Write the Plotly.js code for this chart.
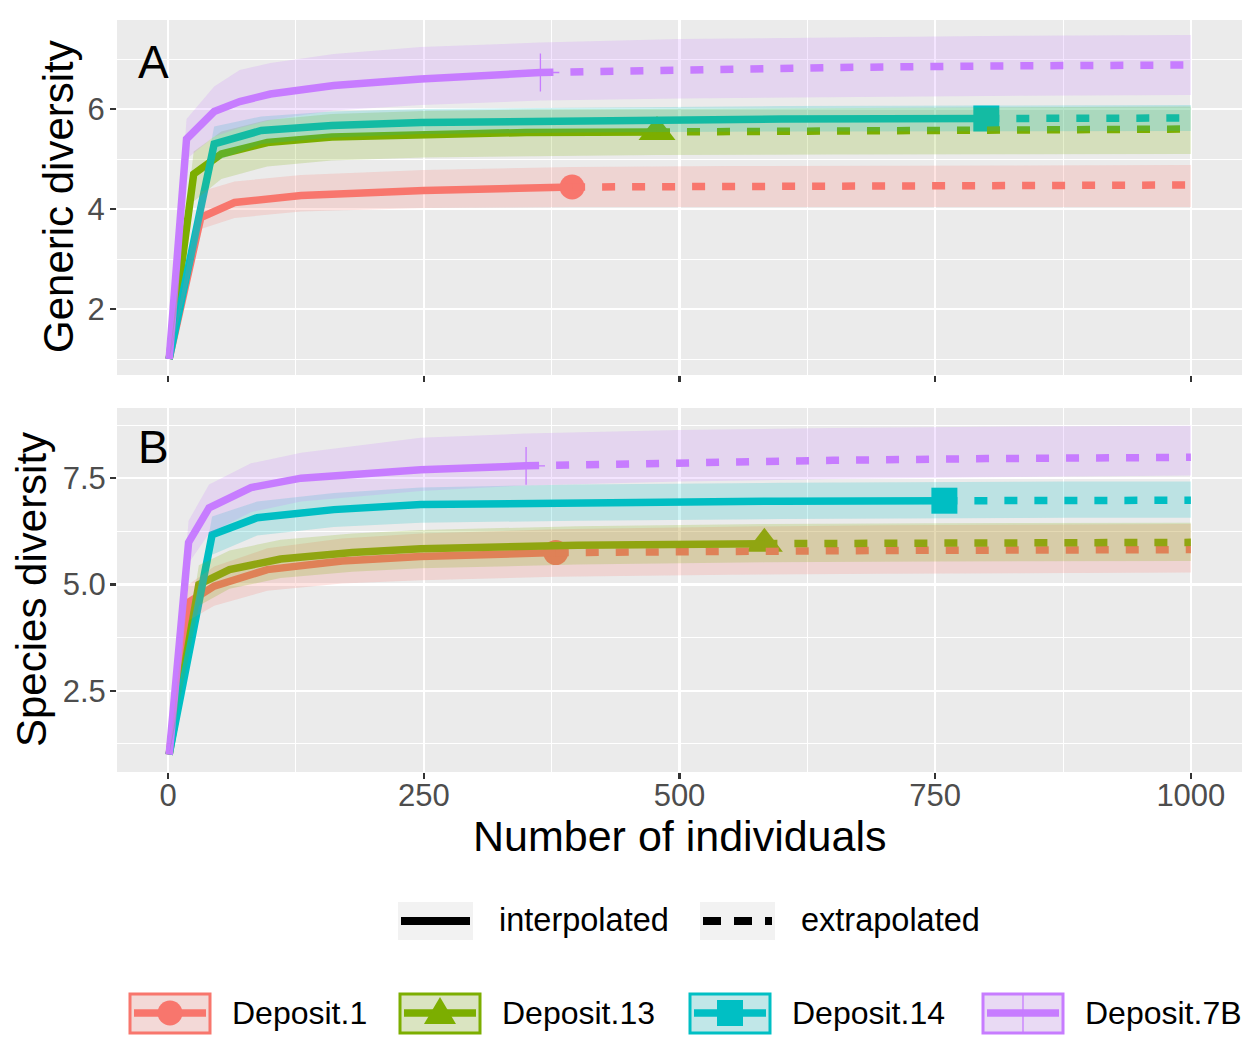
<!DOCTYPE html>
<html>
<head>
<meta charset="utf-8">
<script src="https://cdn.plot.ly/plotly-3.0.1.min.js"></script>
<style>html,body{margin:0;padding:0;background:#fff;}#chart{width:1246px;height:1055px;}</style>
</head>
<body>
<div id="chart"></div>
<script>
// ---------------- DATA ----------------
const deposits = ["Deposit.1", "Deposit.13", "Deposit.14", "Deposit.7B"];
const methodLabels = ["interpolated", "extrapolated"];
const xTickValues = [0, 250, 500, 750, 1000];

// observed sample sizes (reference sample) per panel
const obsGeneric = [395, 478, 800, 364];
const obsSpecies = [379, 583, 759, 350];

// Panel A: Generic diversity
const gen1_x  = [1, 32, 65, 130, 250, 395, 550, 700, 850, 1000];
const gen1_y  = [1, 3.83, 4.13, 4.27, 4.37, 4.44, 4.46, 4.47, 4.47, 4.48];
const gen1_lo = [1, 3.6, 3.82, 3.95, 4.02, 4.04, 4.04, 4.04, 4.04, 4.04];
const gen1_hi = [1, 4.35, 4.55, 4.68, 4.78, 4.84, 4.86, 4.87, 4.88, 4.88];

const gen13_x  = [1, 25, 52, 97, 160, 250, 350, 478, 650, 825, 1000];
const gen13_y  = [1, 4.7, 5.1, 5.33, 5.44, 5.5, 5.53, 5.54, 5.57, 5.59, 5.6];
const gen13_lo = [1, 4.15, 4.6, 4.85, 4.97, 5.03, 5.06, 5.08, 5.09, 5.1, 5.1];
const gen13_hi = [1, 5.15, 5.55, 5.78, 5.9, 5.96, 5.99, 6.0, 6.02, 6.04, 6.05];

const gen14_x  = [1, 45, 91, 160, 247, 400, 600, 800, 900, 1000];
const gen14_y  = [1, 5.3, 5.57, 5.67, 5.73, 5.77, 5.8, 5.81, 5.82, 5.82];
const gen14_lo = [1, 4.95, 5.3, 5.43, 5.5, 5.53, 5.55, 5.56, 5.56, 5.56];
const gen14_hi = [1, 5.65, 5.85, 5.95, 6.0, 6.03, 6.06, 6.07, 6.08, 6.08];

const gen7B_x  = [1, 18, 45, 70, 100, 162, 247, 364, 500, 650, 800, 1000];
const gen7B_y  = [1, 5.4, 5.95, 6.15, 6.3, 6.47, 6.6, 6.73, 6.79, 6.83, 6.86, 6.88];
const gen7B_lo = [1, 5.0, 5.45, 5.62, 5.78, 5.97, 6.08, 6.17, 6.21, 6.24, 6.26, 6.28];
const gen7B_hi = [1, 5.8, 6.45, 6.78, 6.92, 7.1, 7.24, 7.33, 7.4, 7.43, 7.46, 7.48];

// Panel B: Species diversity
const sp1_x  = [1, 20, 45, 97, 170, 247, 379, 550, 700, 850, 1000];
const sp1_y  = [1, 4.58, 4.96, 5.35, 5.55, 5.66, 5.75, 5.79, 5.8, 5.81, 5.82];
const sp1_lo = [1, 4.15, 4.5, 4.85, 5.02, 5.1, 5.18, 5.23, 5.25, 5.27, 5.28];
const sp1_hi = [1, 5.0, 5.42, 5.85, 6.08, 6.2, 6.3, 6.36, 6.39, 6.41, 6.42];

const sp13_x  = [1, 30, 60, 110, 180, 247, 400, 583, 750, 900, 1000];
const sp13_y  = [1, 5.0, 5.35, 5.6, 5.75, 5.84, 5.92, 5.96, 5.98, 5.99, 5.99];
const sp13_lo = [1, 4.5, 4.9, 5.15, 5.3, 5.38, 5.47, 5.52, 5.54, 5.55, 5.55];
const sp13_hi = [1, 5.45, 5.8, 6.05, 6.2, 6.28, 6.37, 6.42, 6.44, 6.45, 6.45];

const sp14_x  = [1, 43, 87, 162, 247, 400, 600, 759, 880, 1000];
const sp14_y  = [1, 6.17, 6.57, 6.76, 6.88, 6.93, 6.96, 6.97, 6.98, 6.98];
const sp14_lo = [1, 5.7, 6.15, 6.35, 6.45, 6.5, 6.54, 6.56, 6.57, 6.57];
const sp14_hi = [1, 6.6, 6.95, 7.15, 7.28, 7.35, 7.39, 7.41, 7.42, 7.42];

const sp7B_x  = [1, 20, 40, 81, 130, 247, 350, 500, 650, 800, 1000];
const sp7B_y  = [1, 5.99, 6.8, 7.28, 7.5, 7.7, 7.79, 7.87, 7.92, 7.96, 7.99];
const sp7B_lo = [1, 5.5, 6.2, 6.7, 6.95, 7.2, 7.33, 7.42, 7.48, 7.52, 7.56];
const sp7B_hi = [1, 6.5, 7.35, 7.85, 8.1, 8.45, 8.55, 8.63, 8.68, 8.71, 8.73];

// ---------------- STYLE ----------------
const colors = ["#F8766D", "#7CAE00", "#00BFC4", "#C77CFF"];
const symbols = ["circle", "triangle-up", "square", "cross-thin"];
const symSizes = [25, 32, 26, 27];
const FONT = "Liberation Sans, Arial, sans-serif";

function rgba(hex, a) {
  const r = parseInt(hex.slice(1,3),16), g = parseInt(hex.slice(3,5),16), b = parseInt(hex.slice(5,7),16);
  return `rgba(${r},${g},${b},${a})`;
}

const generic = [
  {x: gen1_x, y: gen1_y, lo: gen1_lo, hi: gen1_hi},
  {x: gen13_x, y: gen13_y, lo: gen13_lo, hi: gen13_hi},
  {x: gen14_x, y: gen14_y, lo: gen14_lo, hi: gen14_hi},
  {x: gen7B_x, y: gen7B_y, lo: gen7B_lo, hi: gen7B_hi}
];
const species = [
  {x: sp1_x, y: sp1_y, lo: sp1_lo, hi: sp1_hi},
  {x: sp13_x, y: sp13_y, lo: sp13_lo, hi: sp13_hi},
  {x: sp14_x, y: sp14_y, lo: sp14_lo, hi: sp14_hi},
  {x: sp7B_x, y: sp7B_y, lo: sp7B_lo, hi: sp7B_hi}
];

const traces = [];
function addPanel(series, obs, xa, ya) {
  // observed points
  series.forEach((s, i) => {
    const k = s.x.indexOf(obs[i]);
    traces.push({
      x: [s.x[k]], y: [s.y[k]], xaxis: xa, yaxis: ya, mode: "markers", name: deposits[i],
      hoverinfo: "skip",
      marker: {symbol: symbols[i], size: symSizes[i], color: colors[i],
               line: {width: i === 3 ? 1.3 : 0, color: colors[i]}}
    });
  });
  // interpolated and extrapolated lines
  series.forEach((s, i) => {
    const n = obs[i];
    const ix = [], iy = [], ex = [], ey = [];
    s.x.forEach((v, j) => {
      if (v <= n) { ix.push(v); iy.push(s.y[j]); }
      if (v >= n) { ex.push(v); ey.push(s.y[j]); }
    });
    traces.push({x: ix, y: iy, xaxis: xa, yaxis: ya, mode: "lines", name: deposits[i] + " " + methodLabels[0],
      hoverinfo: "skip", line: {color: colors[i], width: 7.5, dash: "solid"}});
    traces.push({x: ex, y: ey, xaxis: xa, yaxis: ya, mode: "lines", name: deposits[i] + " " + methodLabels[1],
      hoverinfo: "skip", line: {color: colors[i], width: 7.5, dash: "13px,17px"}});
  });
  // confidence ribbons
  series.forEach((s, i) => {
    traces.push({
      x: s.x.concat(s.x.slice().reverse()),
      y: s.hi.concat(s.lo.slice().reverse()),
      xaxis: xa, yaxis: ya, mode: "lines", fill: "toself", name: deposits[i] + " CI",
      hoverinfo: "skip", fillcolor: rgba(colors[i], 0.2), line: {width: 0, color: "rgba(0,0,0,0)"}
    });
  });
}
addPanel(generic, obsGeneric, "x2", "y2");
addPanel(species, obsSpecies, "x", "y");

// ---------------- LAYOUT ----------------
// plot area in pixels: x 117..1242, y 20..772
const L = 117, R = 1242, T = 20, B = 772;
const PX = p => (p - L) / (R - L);
const PY = p => (B - p) / (B - T);

const axisCommon = {
  showgrid: true, gridcolor: "#FFFFFF", gridwidth: 2.2,
  zeroline: false, showline: false,
  ticks: "outside", ticklen: 6, tickwidth: 2.5, tickcolor: "#333333",
  tickfont: {family: FONT, size: 31, color: "#4D4D4D"}
};
const xCommon = Object.assign({}, axisCommon, {
  range: [-50, 1050], tickmode: "array", tickvals: xTickValues, ticktext: xTickValues.map(String),
  ticklabelstandoff: -10,
  minor: {dtick: 125, tick0: 0, showgrid: true, gridcolor: "#FFFFFF", gridwidth: 1, ticks: ""}
});

const annotations = [
  {text: "A", x: PX(153), y: PY(62), xref: "paper", yref: "paper", showarrow: false,
   font: {family: FONT, size: 46, color: "#000"}, xanchor: "center", yanchor: "middle"},
  {text: "B", x: PX(153), y: PY(447), xref: "paper", yref: "paper", showarrow: false,
   font: {family: FONT, size: 46, color: "#000"}, xanchor: "center", yanchor: "middle"},
  {text: "Generic diversity", x: PX(58), y: PY(197), xref: "paper", yref: "paper", showarrow: false,
   textangle: -90, font: {family: FONT, size: 42, color: "#000"}, xanchor: "center", yanchor: "middle"},
  {text: "Species diversity", x: PX(31), y: PY(590), xref: "paper", yref: "paper", showarrow: false,
   textangle: -90, font: {family: FONT, size: 42, color: "#000"}, xanchor: "center", yanchor: "middle"},
  {text: "Number of individuals", x: PX(679), y: PY(836), xref: "paper", yref: "paper", showarrow: false,
   font: {family: FONT, size: 43, color: "#000"}, xanchor: "center", yanchor: "middle"}
];

const shapes = [];
// linetype legend
const ltKeys = [398, 700];
const ltDash = ["solid", "18px,13px"];
methodLabels.forEach((lab, i) => {
  const k = ltKeys[i];
  shapes.push({type: "rect", xref: "paper", yref: "paper", x0: PX(k), x1: PX(k + 75), y0: PY(940), y1: PY(902),
    fillcolor: "#F2F2F2", line: {width: 0}});
  shapes.push({type: "line", xref: "paper", yref: "paper", x0: PX(k + 3), x1: PX(k + 72), y0: PY(921), y1: PY(921),
    line: {color: "#000", width: 8, dash: ltDash[i]}});
  annotations.push({text: lab, x: PX(k + 99), y: PY(920), xref: "paper", yref: "paper", showarrow: false,
    xanchor: "left", yanchor: "middle", font: {family: FONT, size: 32.5, color: "#000"}});
});
// colour legend
const ckeys = [130, 400, 690, 983];
deposits.forEach((d, i) => {
  const k = ckeys[i], cx = k + 40, cy = 1013;
  shapes.push({type: "rect", xref: "paper", yref: "paper", x0: PX(k), x1: PX(k + 80), y0: PY(1033), y1: PY(994),
    fillcolor: "#F2F2F2", line: {width: 0}});
  shapes.push({type: "rect", xref: "paper", yref: "paper", x0: PX(k), x1: PX(k + 80), y0: PY(1033), y1: PY(994),
    fillcolor: rgba(colors[i], 0.2), line: {width: 3, color: colors[i]}});
  shapes.push({type: "line", xref: "paper", yref: "paper", x0: PX(k + 4), x1: PX(k + 76), y0: PY(cy), y1: PY(cy),
    line: {color: colors[i], width: 7.5}});
  if (symbols[i] === "circle") {
    shapes.push({type: "circle", xref: "paper", yref: "paper", x0: PX(cx - 12.5), x1: PX(cx + 12.5),
      y0: PY(cy + 12.5), y1: PY(cy - 12.5), fillcolor: colors[i], line: {width: 0}});
  } else if (symbols[i] === "triangle-up") {
    shapes.push({type: "path", xref: "paper", yref: "paper",
      path: `M ${PX(cx - 16)} ${PY(cy + 11)} L ${PX(cx + 16)} ${PY(cy + 11)} L ${PX(cx)} ${PY(cy - 16)} Z`,
      fillcolor: colors[i], line: {width: 0}});
  } else if (symbols[i] === "square") {
    shapes.push({type: "rect", xref: "paper", yref: "paper", x0: PX(cx - 13), x1: PX(cx + 13),
      y0: PY(cy + 13), y1: PY(cy - 13), fillcolor: colors[i], line: {width: 0}});
  } else {
    shapes.push({type: "line", xref: "paper", yref: "paper", x0: PX(cx), x1: PX(cx), y0: PY(cy + 19), y1: PY(cy - 19),
      line: {color: colors[i], width: 1.3}});
  }
  annotations.push({text: d, x: PX(k + 100), y: PY(1013), xref: "paper", yref: "paper", showarrow: false,
    xanchor: "left", yanchor: "middle", font: {family: FONT, size: 32, color: "#000"}});
});

const layout = {
  width: 1246, height: 1055,
  margin: {l: L, r: 1246 - R, t: T, b: 1055 - B, pad: 0},
  paper_bgcolor: "#FFFFFF", plot_bgcolor: "#EBEBEB",
  showlegend: false,
  font: {family: FONT},
  xaxis: Object.assign({}, xCommon, {anchor: "y", domain: [0, 1]}),
  xaxis2: Object.assign({}, xCommon, {anchor: "y2", domain: [0, 1], matches: "x", showticklabels: false}),
  yaxis: Object.assign({}, axisCommon, {anchor: "x", domain: [0, PY(408)], range: [0.59, 9.15],
    tick0: 0, dtick: 2.5, tickformat: ".1f", ticklabelstandoff: -2,
    minor: {dtick: 1.25, tick0: 0, showgrid: true, gridcolor: "#FFFFFF", gridwidth: 1, ticks: ""}}),
  yaxis2: Object.assign({}, axisCommon, {anchor: "x2", domain: [PY(375), 1], range: [0.68, 7.78],
    tick0: 0, dtick: 2, ticklabelstandoff: -1,
    minor: {dtick: 1, tick0: 0, showgrid: true, gridcolor: "#FFFFFF", gridwidth: 1, ticks: ""}}),
  annotations: annotations,
  shapes: shapes
};

Plotly.newPlot("chart", traces, layout, {displayModeBar: false, staticPlot: true});
</script>
</body>
</html>
